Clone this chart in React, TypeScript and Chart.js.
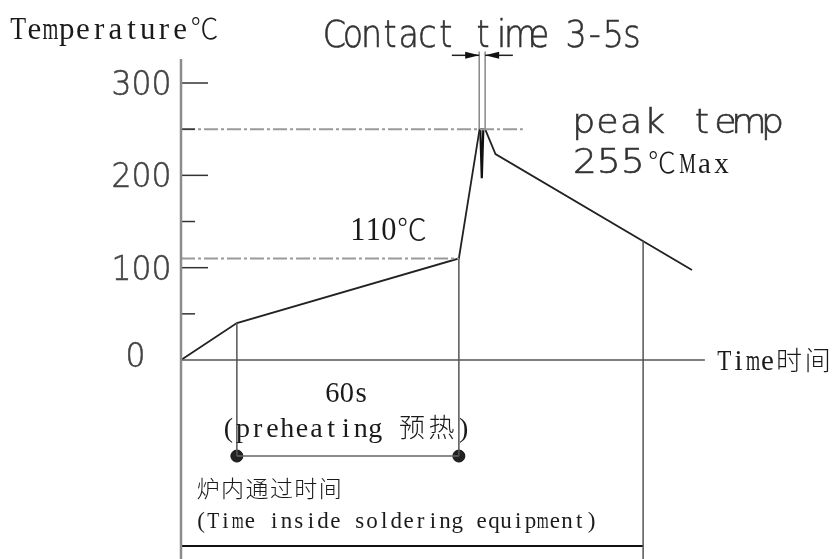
import { useEffect, useRef } from "react";
import { Chart, registerables } from "chart.js";

Chart.register(...registerables);

// ---- data (time in s, temperature in °C) ----
const profileTime = [0, 15.1, 75.1, 80.7, 82.2, 85.0, 138.1];
const profileTemp = [0, 40, 110, 250, 250, 223, 97.5];
const spikeTime = [80.9, 81.3, 81.7];
const spikeTemp = [249, 197, 249];
const contactTime = [80.6, 82.2];
const contactTop = 334;
const arrowTemp = 330;
const arrowTail = [73.2, 89.7];
const peakTemp = 250;
const peakDashEnd = 92.4;
const preheatTemp = 110;
const preheatStart = 15.1;
const preheatEnd = 75.1;
const exitTime = 124.9;
const exitTemp = 129.4;
const dotTemp = -104;
const bottomBarTemp = -201.5;
const axisTop = 326;
const axisEnd = 141.6;
const tickValues = [50, 100, 150, 200, 250, 300];
const labelValues = [0, 100, 200, 300];
// visible window of the drawing
const timeRange = [-48.92, 177.3];
const tempRange = [-215.5, 389.9];

const CAD = "'DejaVu Sans'";
const SERIF = "'Liberation Serif'";

type CellOpts = {
  size: number;
  adv: number;
  family: string;
  weight?: string;
  sx?: number;
  fit?: number;
  color: string;
  cjkSize?: number;
  stroke?: number;
};

function drawCells(ctx: CanvasRenderingContext2D, text: string, x: number, baseline: number, o: CellOpts) {
  let cx = x;
  const sx = o.sx ?? 1;
  for (const ch of Array.from(text)) {
    const full = (ch.codePointAt(0) || 0) > 0x2000;
    const w = full ? o.adv * 2 : o.adv;
    if (ch !== " ") {
      ctx.save();
      ctx.translate(cx + w / 2, baseline);
      ctx.font = full ? `300 ${o.cjkSize ?? o.size}px "Noto Sans CJK SC"` : `${o.weight ?? ""} ${o.size}px ${o.family}`;
      if (!full) {
        let s = sx;
        if (o.fit) {
          const mw = ctx.measureText(ch).width * sx;
          if (mw > o.adv * o.fit) s = (sx * o.adv * o.fit) / mw;
        }
        ctx.scale(s, 1);
      }
      ctx.fillStyle = o.color;
      ctx.textAlign = "center";
      ctx.textBaseline = "alphabetic";
      ctx.fillText(ch, 0, 0);
      if (o.stroke && !full) {
        ctx.strokeStyle = o.color;
        ctx.lineWidth = o.stroke;
        ctx.strokeText(ch, 0, 0);
      }
      ctx.restore();
    }
    cx += w;
  }
}

function seg(xs: number[], ys: number[]) {
  return xs.map((x, i) => ({ x, y: ys[i] }));
}

function lineDs(data: { x: number; y: number }[], color: string, width: number, dash: number[] = []) {
  return {
    data,
    showLine: true,
    borderColor: color,
    borderWidth: width,
    borderDash: dash,
    pointRadius: 0,
    clip: false as any,
    tension: 0,
  };
}

const annotations = {
  id: "annotations",
  afterDatasetsDraw(chart: any) {
    const ctx: CanvasRenderingContext2D = chart.ctx;
    const xs = chart.scales.x;
    const ys = chart.scales.y;
    const px = (v: number) => xs.getPixelForValue(v);
    const py = (v: number) => ys.getPixelForValue(v);

    // arrows for contact time
    ctx.save();
    ctx.strokeStyle = "#222";
    ctx.fillStyle = "#111";
    ctx.lineWidth = 1.5;
    const ay = py(arrowTemp);
    [[arrowTail[0], contactTime[0]], [arrowTail[1], contactTime[1]]].forEach(([from, to]) => {
      const x0 = px(from);
      const x1 = px(to);
      const dir = Math.sign(x1 - x0);
      ctx.beginPath();
      ctx.moveTo(x0, ay);
      ctx.lineTo(x1, ay);
      ctx.stroke();
      ctx.beginPath();
      ctx.moveTo(x1, ay);
      ctx.lineTo(x1 - dir * 14, ay - 3.5);
      ctx.lineTo(x1 - dir * 14, ay + 3.5);
      ctx.closePath();
      ctx.fill();
    });
    ctx.restore();

    const cadLabel = { size: 33, adv: 20, family: CAD, weight: "200", sx: 0.95, color: "#444", stroke: 0.6 };
    // y tick labels
    labelValues.forEach((v) => {
      const s = String(v);
      if (v === 0) {
        drawCells(ctx, s, 135.5 - cadLabel.adv / 2, py(v) + 7, cadLabel);
      } else {
        const right = px(0) - 11;
        drawCells(ctx, s, right - 8.5 - (s.length - 0.5) * cadLabel.adv, py(v) + 12, cadLabel);
      }
    });

    // CAD style texts
    const cad = { family: CAD, weight: "200", color: "#333", stroke: 0.6 };
    drawCells(ctx, "Contact time 3-5s", 325, 47, { ...cad, size: 37, adv: 18.6, sx: 0.9 });
    drawCells(ctx, "peak temp", 572, 133, { ...cad, size: 33, adv: 23.6, sx: 1.1 });
    drawCells(ctx, "255", 573, 173, { ...cad, size: 34, adv: 24, sx: 1.1 });

    // serif texts
    const serif = { family: SERIF, color: "#1a1a1a", fit: 0.98 };
    drawCells(ctx, "Temperature℃", 10, 39, { ...serif, size: 31, adv: 16.2, cjkSize: 28 });
    drawCells(ctx, "℃Max", 645, 173, { ...serif, size: 29, adv: 17, cjkSize: 28 });
    drawCells(ctx, "110℃", 350, 240, { ...serif, size: 34, adv: 15.5, cjkSize: 30 });
    drawCells(ctx, "60s", 325, 402, { ...serif, size: 29, adv: 14.5 });
    drawCells(ctx, "(preheating 预热)", 221, 437, { ...serif, size: 28, adv: 14.7, cjkSize: 26 });
    drawCells(ctx, "炉内通过时间", 196, 497, { ...serif, size: 24, adv: 12.2, cjkSize: 23 });
    drawCells(ctx, "(Time inside soldering equipment)", 195, 528, { ...serif, size: 23, adv: 12.2 });
    drawCells(ctx, "Time时间", 717, 370, { ...serif, size: 29, adv: 14.4, cjkSize: 26 });
  },
};

export default function App() {
  const ref = useRef<HTMLCanvasElement | null>(null);

  useEffect(() => {
    if (!ref.current) return;
    const datasets: any[] = [];
    // axes
    datasets.push(lineDs(seg([0, 0], [axisTop, tempRange[0]]), "#8c8c8c", 2.5));
    datasets.push(lineDs(seg([0, axisEnd], [0, 0]), "#555", 1.5));
    // tick marks
    tickValues.forEach((v) => {
      const len = v % 100 === 0 ? 7.3 : 3.8;
      datasets.push(lineDs(seg([0, len], [v, v]), "#333", 1.5));
    });
    // dash-dot reference lines
    datasets.push(lineDs(seg([0, peakDashEnd], [peakTemp, peakTemp]), "#9a9a9a", 2, [14, 3, 3, 3]));
    datasets.push(lineDs(seg([0, preheatEnd], [preheatTemp, preheatTemp]), "#9a9a9a", 2, [14, 3, 3, 3]));
    // contact time lines
    contactTime.forEach((t) => datasets.push(lineDs(seg([t, t], [peakTemp, contactTop]), "#888", 1.5)));
    // drop lines
    datasets.push(lineDs(seg([preheatStart, preheatStart], [40, dotTemp]), "#555", 1.5));
    datasets.push(lineDs(seg([preheatEnd, preheatEnd], [preheatTemp, dotTemp]), "#555", 1.5));
    datasets.push(lineDs(seg([exitTime, exitTime], [exitTemp, tempRange[0]]), "#555", 1.5));
    datasets.push(lineDs(seg([preheatStart, preheatEnd], [dotTemp, dotTemp]), "#666", 1.5));
    datasets.push(lineDs(seg([0, exitTime], [bottomBarTemp, bottomBarTemp]), "#111", 2));
    // profile
    datasets.push(lineDs(seg(profileTime, profileTemp), "#222", 1.8));
    datasets.push(lineDs(seg(spikeTime, spikeTemp), "#111", 2.2));
    // dots
    datasets.push({
      data: seg([preheatStart, preheatEnd], [dotTemp, dotTemp]),
      showLine: false,
      pointRadius: 6,
      pointBackgroundColor: "#222",
      pointBorderColor: "#111",
      pointBorderWidth: 1,
      clip: false,
    });

    const chart = new Chart(ref.current, {
      type: "scatter",
      data: { datasets },
      options: {
        animation: false,
        responsive: false,
        devicePixelRatio: 1,
        events: [],
        layout: { padding: 0, autoPadding: false },
        plugins: { legend: { display: false }, tooltip: { enabled: false } },
        scales: {
          x: { type: "linear", min: timeRange[0], max: timeRange[1], display: false },
          y: { type: "linear", min: tempRange[0], max: tempRange[1], display: false },
        },
      },
      plugins: [annotations],
    });
    return () => chart.destroy();
  }, []);

  return (
    <div style={{ position: "fixed", left: 0, top: 0, width: 837, height: 559, background: "#fff" }}>
      <canvas ref={ref} width={837} height={559} />
    </div>
  );
}
